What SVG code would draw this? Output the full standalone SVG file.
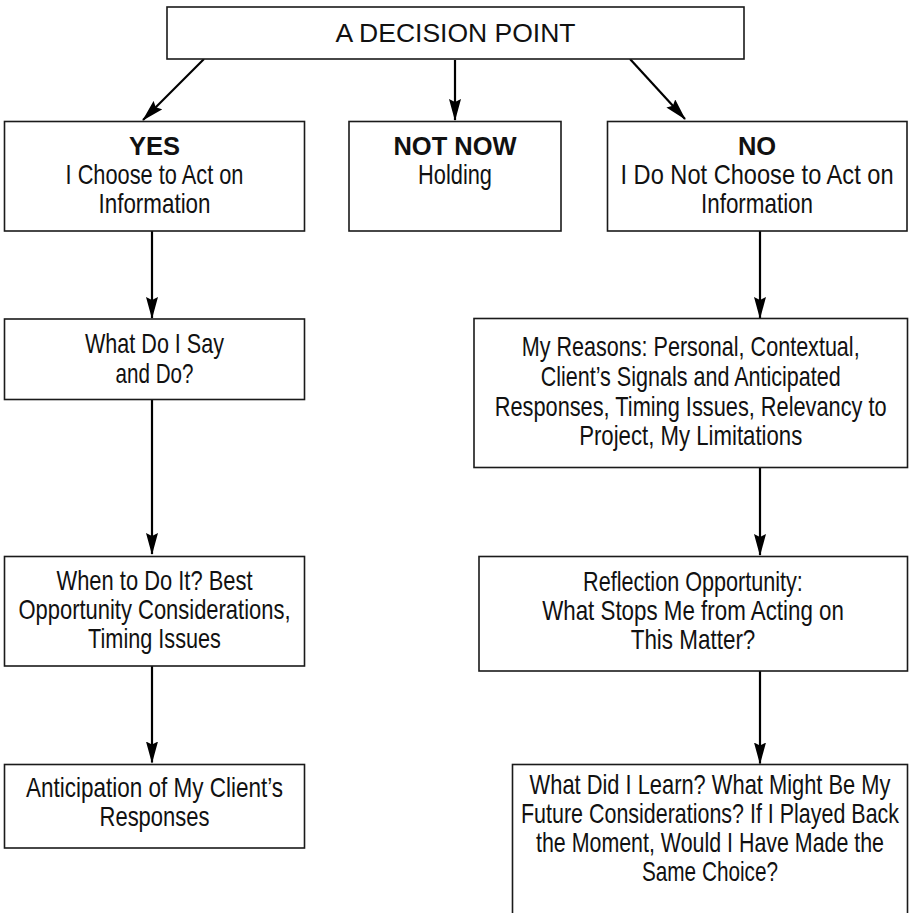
<svg xmlns="http://www.w3.org/2000/svg" width="913" height="913" viewBox="0 0 913 913">
<style>
.box{fill:#fff;stroke:#1a1a1a;stroke-width:1.6}
.t{font-family:"Liberation Sans",Arial,sans-serif;font-size:27px;fill:#111;text-anchor:middle}
.h{font-family:"Liberation Sans",Arial,sans-serif;font-size:25.5px;font-weight:bold;fill:#111;text-anchor:middle}
.title{font-family:"Liberation Sans",Arial,sans-serif;font-size:26px;fill:#111;text-anchor:middle}
.c{stroke:#000;stroke-width:2.2;fill:none;marker-end:url(#ah)}
</style>
<defs>
<marker id="ah" markerUnits="userSpaceOnUse" viewBox="0 0 22 12" refX="21" refY="6" markerWidth="22" markerHeight="12" orient="auto">
<path d="M0,0 L22,6 L0,12 L3,6 Z" fill="#000"/>
</marker>
</defs>
<rect width="913" height="913" fill="#fff"/>
<g id="connectors">
<line class="c" x1="204" y1="59" x2="143" y2="120"/>
<line class="c" x1="455" y1="60" x2="455" y2="120"/>
<line class="c" x1="630" y1="59" x2="685" y2="119"/>
<line class="c" x1="152" y1="231" x2="152" y2="318"/>
<line class="c" x1="760" y1="231" x2="760" y2="318"/>
<line class="c" x1="152" y1="399.5" x2="152" y2="554"/>
<line class="c" x1="760" y1="467.5" x2="760" y2="555"/>
<line class="c" x1="152" y1="666" x2="152" y2="762.5"/>
<line class="c" x1="760" y1="671" x2="760" y2="763.5"/>
</g>
<g id="decision">
<rect class="box" x="167" y="7" width="577" height="52"/>
<text class="title" x="455.5" y="42" textLength="240" lengthAdjust="spacingAndGlyphs">A DECISION POINT</text>
</g>
<g id="yes">
<rect class="box" x="4.5" y="121.5" width="300" height="109.5"/>
<text class="h" x="154.5" y="155">YES</text>
<g transform="translate(154.5 0) scale(0.82 1)">
<text class="t" x="0" y="184" textLength="217" lengthAdjust="spacingAndGlyphs">I Choose to Act on</text>
<text class="t" x="0" y="213" textLength="136.6" lengthAdjust="spacingAndGlyphs">Information</text>
</g>
</g>
<g id="notnow">
<rect class="box" x="349" y="121.5" width="212" height="109.5"/>
<text class="h" x="455" y="155">NOT NOW</text>
<g transform="translate(455 0) scale(0.82 1)">
<text class="t" x="0" y="184" textLength="90.2" lengthAdjust="spacingAndGlyphs">Holding</text>
</g>
</g>
<g id="no">
<rect class="box" x="607.5" y="121.5" width="299.5" height="109.5"/>
<text class="h" x="757" y="155">NO</text>
<g transform="translate(757 0) scale(0.82 1)">
<text class="t" x="0" y="184" textLength="333" lengthAdjust="spacingAndGlyphs">I Do Not Choose to Act on</text>
<text class="t" x="0" y="213" textLength="136.6" lengthAdjust="spacingAndGlyphs">Information</text>
</g>
</g>
<g id="say">
<rect class="box" x="4.5" y="319" width="300" height="80.5"/>
<g transform="translate(154.5 0) scale(0.82 1)">
<text class="t" x="0" y="353" textLength="169.5" lengthAdjust="spacingAndGlyphs">What Do I Say</text>
<text class="t" x="0" y="383" textLength="95" lengthAdjust="spacingAndGlyphs">and Do?</text>
</g>
</g>
<g id="reasons">
<rect class="box" x="474" y="318.5" width="433.5" height="149"/>
<g transform="translate(690.7 0) scale(0.82 1)">
<text class="t" x="0" y="356" textLength="412" lengthAdjust="spacingAndGlyphs">My Reasons: Personal, Contextual,</text>
<text class="t" x="0" y="386" textLength="366" lengthAdjust="spacingAndGlyphs">Client’s Signals and Anticipated</text>
<text class="t" x="0" y="416" textLength="478" lengthAdjust="spacingAndGlyphs">Responses, Timing Issues, Relevancy to</text>
<text class="t" x="0" y="445.5" textLength="272" lengthAdjust="spacingAndGlyphs">Project, My Limitations</text>
</g>
</g>
<g id="when">
<rect class="box" x="4.5" y="556.5" width="300" height="109.5"/>
<g transform="translate(154.5 0) scale(0.82 1)">
<text class="t" x="0" y="590" textLength="239" lengthAdjust="spacingAndGlyphs">When to Do It? Best</text>
<text class="t" x="0" y="619.5" textLength="331.7" lengthAdjust="spacingAndGlyphs">Opportunity Considerations,</text>
<text class="t" x="0" y="648" textLength="162" lengthAdjust="spacingAndGlyphs">Timing Issues</text>
</g>
</g>
<g id="reflection">
<rect class="box" x="479" y="556.5" width="428.5" height="114.5"/>
<g transform="translate(693 0) scale(0.82 1)">
<text class="t" x="0" y="591.5" textLength="268" lengthAdjust="spacingAndGlyphs">Reflection Opportunity:</text>
<text class="t" x="0" y="620.5" textLength="368" lengthAdjust="spacingAndGlyphs">What Stops Me from Acting on</text>
<text class="t" x="0" y="649.5" textLength="152" lengthAdjust="spacingAndGlyphs">This Matter?</text>
</g>
</g>
<g id="anticipation">
<rect class="box" x="4.5" y="764.5" width="300" height="83.5"/>
<g transform="translate(154.5 0) scale(0.82 1)">
<text class="t" x="0" y="797" textLength="313.4" lengthAdjust="spacingAndGlyphs">Anticipation of My Client’s</text>
<text class="t" x="0" y="826" textLength="134" lengthAdjust="spacingAndGlyphs">Responses</text>
</g>
</g>
<g id="learn">
<rect class="box" x="512.5" y="764.5" width="395" height="170"/>
<g transform="translate(710 0) scale(0.82 1)">
<text class="t" x="0" y="794" textLength="440" lengthAdjust="spacingAndGlyphs">What Did I Learn? What Might Be My</text>
<text class="t" x="0" y="823" textLength="461" lengthAdjust="spacingAndGlyphs">Future Considerations? If I Played Back</text>
<text class="t" x="0" y="852" textLength="424.4" lengthAdjust="spacingAndGlyphs">the Moment, Would I Have Made the</text>
<text class="t" x="0" y="881" textLength="166" lengthAdjust="spacingAndGlyphs">Same Choice?</text>
</g>
</g>
</svg>
